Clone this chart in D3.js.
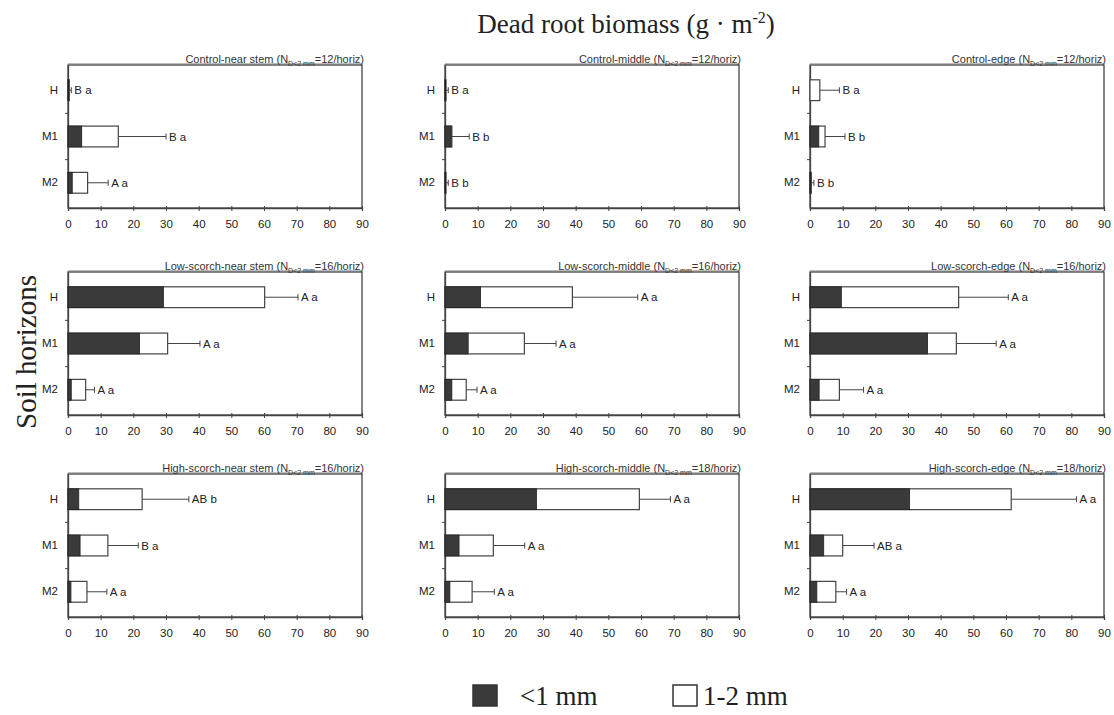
<!DOCTYPE html>
<html>
<head>
<meta charset="utf-8">
<script src="https://cdn.jsdelivr.net/npm/d3@7"></script>
<style>
  body { margin: 0; background: #fff; }
  svg { display: block; }
</style>
</head>
<body>
<div id="chart"></div>
<script>
// panels read row by row: control, low scorch, high scorch x near stem, middle, edge
const panelTitles = [
  "Control-near stem", "Control-middle", "Control-edge",
  "Low-scorch-near stem", "Low-scorch-middle", "Low-scorch-edge",
  "High-scorch-near stem", "High-scorch-middle", "High-scorch-edge"
];
const panelN = [12, 12, 12, 16, 16, 16, 16, 18, 18];
const horizons = ["H", "M1", "M2"];
const xTicks = [0, 10, 20, 30, 40, 50, 60, 70, 80, 90];

// <1 mm part (dark) for H, M1, M2
const fineRoots = [
  [0.2, 4.2, 1.3], [0.2, 1.9, 0.2], [0, 2.7, 0.2],
  [29.2, 21.9, 1], [10.9, 7.1, 2.1], [9.6, 36, 2.8],
  [3.3, 3.7, 0.9], [28, 4.3, 1.5], [30.5, 4.2, 2.1]
];
// total (<1 mm + 1-2 mm)
const totalRoots = [
  [0.4, 15.4, 6], [0.3, 2.1, 0.3], [3, 4.6, 0.4],
  [60.2, 30.5, 5.4], [39, 24.3, 6.5], [45.5, 44.8, 9],
  [22.7, 12.2, 5.8], [59.5, 14.8, 8.3], [61.6, 10, 7.9]
];
// end of error bar
const errorTop = [
  [1, 30, 12.3], [1, 7.4, 1], [9, 10.7, 1.2],
  [70.4, 40.4, 8.1], [59, 34, 9.8], [60.7, 57, 16.4],
  [37, 21.5, 11.9], [69, 24.4, 15.1], [81.6, 19.6, 11.2]
];
const letters = [
  ["B a", "B a", "A a"], ["B a", "B b", "B b"], ["B a", "B b", "B b"],
  ["A a", "A a", "A a"], ["A a", "A a", "A a"], ["A a", "A a", "A a"],
  ["AB b", "B a", "A a"], ["A a", "A a", "A a"], ["A a", "AB a", "A a"]
];
const legendLabels = ["<1 mm", "1-2 mm"];

const width = 1114, height = 715;
const colX = [68, 445, 810];
const rowY = [65, 272, 474];
const plotW = 294, plotH = 143;
const dark = "#3a3a3a", ink = "#444";
const sans = "'Liberation Sans', Arial, sans-serif";
const serif = "'Liberation Serif', 'Times New Roman', serif";

const svg = d3.select("#chart").append("svg")
  .attr("width", width)
  .attr("height", height)
  .style("font-family", sans);

const x = d3.scaleLinear().domain([0, 90]).range([0, plotW]);
const y = d3.scaleBand().domain(horizons).range([0, plotH]).paddingInner(0.55).paddingOuter(0.32);

panelTitles.forEach((title, i) => {
  const g = svg.append("g")
    .attr("transform", `translate(${colX[i % 3]},${rowY[Math.floor(i / 3)]})`);

  // frame
  g.append("rect")
    .attr("width", plotW).attr("height", plotH)
    .attr("fill", "none").attr("stroke", ink).attr("stroke-width", 1.3);
  g.append("line")
    .attr("x1", 0).attr("x2", plotW).attr("y1", -1).attr("y2", -1)
    .attr("stroke", "#777").attr("stroke-width", 1);

  // panel title, right aligned on the frame
  const t = g.append("text")
    .attr("x", plotW + 2).attr("y", -2)
    .attr("text-anchor", "end")
    .attr("font-size", 11)
    .attr("fill", "#333");
  t.append("tspan").text(title + " (N");
  t.append("tspan").attr("dy", 2.5).attr("font-size", 7).text("D<2 mm");
  t.append("tspan").attr("dy", -2.5).text(`=${panelN[i]}/horiz)`);

  // x axis
  const xa = g.append("g")
    .attr("transform", `translate(0,${plotH})`)
    .call(d3.axisBottom(x).tickValues(xTicks).tickSize(3).tickPadding(9));
  xa.select(".domain").attr("stroke", ink).attr("stroke-width", 1.3);
  xa.selectAll(".tick line").attr("stroke", ink).attr("y1", -2);
  xa.selectAll(".tick text").attr("font-size", 11.5).attr("fill", "#222")
    .attr("font-family", sans);

  // y axis: labels, and small ticks between horizons
  const ya = g.append("g").call(d3.axisLeft(y).tickSize(0).tickPadding(10));
  ya.select(".domain").attr("stroke", ink).attr("stroke-width", 1.3);
  ya.selectAll(".tick text").attr("font-size", 11.5).attr("fill", "#222")
    .attr("font-family", sans);
  g.selectAll(".sep")
    .data(horizons.slice(1))
    .join("line")
    .attr("x1", -3).attr("x2", 0)
    .attr("y1", d => y(d) - y.step() * y.paddingInner() / 2)
    .attr("y2", d => y(d) - y.step() * y.paddingInner() / 2)
    .attr("stroke", ink);

  const rows = horizons.map((h, k) => ({
    h, fine: fineRoots[i][k], total: totalRoots[i][k], err: errorTop[i][k], lab: letters[i][k]
  }));

  // error bars
  g.selectAll(".err")
    .data(rows)
    .join("line")
    .attr("x1", d => x(d.total)).attr("x2", d => x(d.err))
    .attr("y1", d => y(d.h) + y.bandwidth() / 2)
    .attr("y2", d => y(d.h) + y.bandwidth() / 2)
    .attr("stroke", ink);
  g.selectAll(".cap")
    .data(rows)
    .join("line")
    .attr("x1", d => x(d.err)).attr("x2", d => x(d.err))
    .attr("y1", d => y(d.h) + y.bandwidth() / 2 - 3)
    .attr("y2", d => y(d.h) + y.bandwidth() / 2 + 3)
    .attr("stroke", ink);

  // 1-2 mm (open) then <1 mm (dark)
  g.selectAll(".coarse")
    .data(rows)
    .join("rect")
    .attr("x", x(0)).attr("y", d => y(d.h))
    .attr("width", d => x(d.total)).attr("height", y.bandwidth())
    .attr("fill", "#fff").attr("stroke", ink).attr("stroke-width", 1.2);
  g.selectAll(".fine")
    .data(rows)
    .join("rect")
    .attr("x", x(0)).attr("y", d => y(d.h))
    .attr("width", d => x(d.fine)).attr("height", y.bandwidth())
    .attr("fill", dark).attr("stroke", "#222").attr("stroke-width", 0.8);

  // significance letters
  g.selectAll(".lab")
    .data(rows)
    .join("text")
    .attr("x", d => x(d.err) + 3)
    .attr("y", d => y(d.h) + y.bandwidth() / 2 + 4)
    .attr("font-size", 11.5)
    .attr("fill", "#222")
    .text(d => d.lab);
});

// main title
const mt = svg.append("text")
  .attr("x", 626).attr("y", 33)
  .attr("text-anchor", "middle")
  .attr("font-family", serif)
  .attr("font-size", 27)
  .attr("fill", "#222");
mt.append("tspan").text("Dead root biomass (g \u00b7 m");
mt.append("tspan").attr("dy", -10).attr("font-size", 16).text("-2");
mt.append("tspan").attr("dy", 10).text(")");

// y title
svg.append("text")
  .attr("transform", "translate(36,352) rotate(-90)")
  .attr("text-anchor", "middle")
  .attr("font-family", serif)
  .attr("font-size", 29)
  .attr("fill", "#222")
  .text("Soil horizons");

// legend
const legend = svg.append("g")
  .attr("font-family", serif)
  .attr("font-size", 27)
  .attr("fill", "#222");
const legX = [473, 673];
legendLabels.forEach((lab, i) => {
  legend.append("rect")
    .attr("x", legX[i]).attr("y", 685)
    .attr("width", 24).attr("height", 21)
    .attr("fill", i === 0 ? dark : "#fff")
    .attr("stroke", "#333").attr("stroke-width", 1.5);
  legend.append("text")
    .attr("x", legX[i] + (i === 0 ? 47 : 30)).attr("y", 705)
    .text(lab);
});
</script>
</body>
</html>
